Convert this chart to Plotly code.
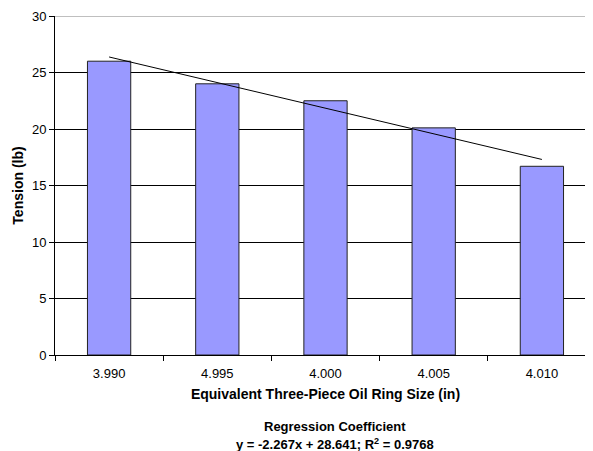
import plotly.graph_objects as go

categories = ["3.990", "4.995", "4.000", "4.005", "4.010"]
tension = [26.0, 24.0, 22.5, 20.1, 16.7]
slope = -2.267
intercept = 28.641
r_squared = 0.9768

trend = [slope * (i + 1) + intercept for i in range(len(categories))]

fig = go.Figure()
fig.add_trace(go.Bar(
    x=categories, y=tension,
    marker=dict(color="#9999FF", line=dict(color="#222222", width=1)),
    width=0.4, showlegend=False,
))
fig.add_trace(go.Scatter(
    x=categories, y=trend, mode="lines",
    line=dict(color="black", width=1), showlegend=False,
))

font_family = "Liberation Sans, Arial, sans-serif"
fig.update_layout(
    width=588, height=443,
    margin=dict(l=47, r=0, t=8, b=96),
    paper_bgcolor="white", plot_bgcolor="white",
    font=dict(family=font_family, color="black", size=13),
    xaxis=dict(
        type="category", range=[-0.5, 4.5],
        showgrid=False, showline=True, linecolor="black", linewidth=1,
        ticks="outside", tickson="boundaries", ticklen=5, tickcolor="black",
        tickfont=dict(size=13), ticklabelstandoff=6,
        title=dict(text="<b>Equivalent Three-Piece Oil Ring Size (in)</b>",
                   font=dict(size=14), standoff=9),
    ),
    yaxis=dict(
        range=[0, 30], dtick=5, showgrid=True, gridcolor="black", gridwidth=1,
        showline=True, linecolor="black", linewidth=1,
        ticks="outside", ticklen=5, tickcolor="black",
        tickfont=dict(size=13), zeroline=False,
        title=dict(text="<b>Tension (lb)</b>", font=dict(size=14), standoff=5),
    ),
    bargap=0.6,
    annotations=[
        dict(text="<b>Regression Coefficient</b>", xref="paper", yref="paper",
             x=0.5176, y=-0.212, xanchor="center", yanchor="middle",
             showarrow=False, font=dict(size=13)),
        dict(text=f"<b>y = {slope}x + {intercept}; R<sup>2</sup> = {r_squared}</b>",
             xref="paper", yref="paper",
             x=0.5176, y=-0.264, xanchor="center", yanchor="middle",
             showarrow=False, font=dict(size=13)),
    ],
    shapes=[dict(type="line", xref="paper", yref="y", x0=0, x1=1, y0=30, y1=30,
                 line=dict(color="#808080", width=1), layer="above")],
)

fig.write_html("out.html")
